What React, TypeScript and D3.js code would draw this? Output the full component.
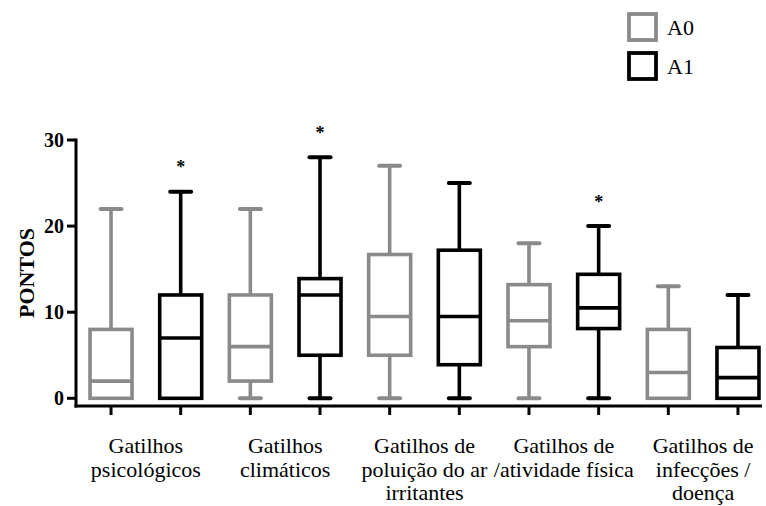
import React from "react";
import * as d3 from "d3";

const categories: string[][] = [
  ["Gatilhos", "psicológicos"],
  ["Gatilhos", "climáticos"],
  ["Gatilhos de", "poluição do ar", "irritantes"],
  ["Gatilhos de", "/atividade física"],
  ["Gatilhos de", "infecções /", "doença"],
];
const seriesNames = ["A0", "A1"];
const seriesColors = ["#8a8a8a", "#000000"];

const a0Min = [0, 0, 0, 0, 0];
const a0Q1 = [0, 2, 5, 6, 0];
const a0Median = [2, 6, 9.5, 9, 3];
const a0Q3 = [8, 12, 16.7, 13.2, 8];
const a0Max = [22, 22, 27, 18, 13];

const a1Min = [0, 0, 0, 0, 0];
const a1Q1 = [0, 5, 3.9, 8.1, 0];
const a1Median = [7, 12, 9.5, 10.5, 2.4];
const a1Q3 = [12, 13.9, 17.2, 14.4, 5.9];
const a1Max = [24, 28, 25, 20, 12];
const a1Significant = [true, true, false, true, false];

const yTicks = [0, 10, 20, 30];

const W = 766;
const H = 506;

export default function App() {
  const y = d3.scaleLinear().domain([0, 30]).range([398.3, 140]);
  const xGroup = d3
    .scaleBand<number>()
    .domain(d3.range(categories.length))
    .range([76.2, 772.8])
    .padding(0);
  const xSeries = d3
    .scaleBand<string>()
    .domain(seriesNames)
    .range([0, xGroup.bandwidth()])
    .padding(0);

  const stats = [
    { min: a0Min, q1: a0Q1, med: a0Median, q3: a0Q3, max: a0Max },
    { min: a1Min, q1: a1Q1, med: a1Median, q3: a1Q3, max: a1Max },
  ];

  const boxW = 42;
  const capW = 21;
  const sw = 3.6;
  const axisX = 76;
  const axisY = 406;

  const boxes: React.ReactNode[] = [];
  categories.forEach((_, gi) => {
    seriesNames.forEach((s, si) => {
      const st = stats[si];
      const cx = (xGroup(gi) as number) + (xSeries(s) as number) + xSeries.bandwidth() / 2;
      const col = seriesColors[si];
      const yMin = y(st.min[gi]);
      const yQ1 = y(st.q1[gi]);
      const yMed = y(st.med[gi]);
      const yQ3 = y(st.q3[gi]);
      const yMax = y(st.max[gi]);
      boxes.push(
        <g key={`${gi}-${s}`} stroke={col} fill="none">
          <line x1={cx} x2={cx} y1={yQ3} y2={yMax} strokeWidth={sw} />
          <line x1={cx} x2={cx} y1={yQ1} y2={yMin} strokeWidth={sw} />
          <line x1={cx - capW / 2} x2={cx + capW / 2} y1={yMax} y2={yMax} strokeWidth={4} strokeLinecap="round" />
          {st.min[gi] < st.q1[gi] && (
            <line x1={cx - capW / 2} x2={cx + capW / 2} y1={yMin} y2={yMin} strokeWidth={4} strokeLinecap="round" />
          )}
          <rect x={cx - boxW / 2} y={yQ3} width={boxW} height={yQ1 - yQ3} strokeWidth={sw} fill="white" />
          <line x1={cx - boxW / 2} x2={cx + boxW / 2} y1={yMed} y2={yMed} strokeWidth={sw} />
        </g>
      );
      if (si === 1 && a1Significant[gi]) {
        boxes.push(
          <text
            key={`star-${gi}`}
            className="ser"
            x={cx}
            y={yMax - 27 + 8.5}
            textAnchor="middle"
            fontWeight="bold"
            fontSize={18}
            fill="#000"
          >
            *
          </text>
        );
      }
    });
  });

  return (
    <div style={{ position: "absolute", left: 0, top: 0, fontFamily: "Liberation Serif, serif" }}>
      <svg
        width={W}
        height={H}
        fontFamily="Liberation Serif, serif"
        style={{ display: "block", background: "white", fontFamily: "Liberation Serif, serif" }}
      >
        <style>{`text, tspan { font-family: "Liberation Serif", "Times New Roman", serif !important; }`}</style>
        {/* Y axis */}
        <line x1={axisX} x2={axisX} y1={y(30) - 1.5} y2={axisY + 1.5} stroke="#000" strokeWidth={3} />
        {yTicks.map((t) => (
          <g key={t}>
            <line x1={axisX - 9} x2={axisX} y1={y(t)} y2={y(t)} stroke="#000" strokeWidth={3} />
            <text
              x={axisX - 12}
              y={y(t)}
              dy="0.35em"
              textAnchor="end"
              fontWeight="bold"
              fontSize={20}
              fill="#000"
            >
              {t}
            </text>
          </g>
        ))}
        <text
          transform={`translate(26,273) rotate(-90)`}
          textAnchor="middle"
          dy="0.35em"
          fontWeight="bold"
          fontSize={22}
          fill="#000"
        >
          PONTOS
        </text>

        {/* X axis */}
        <line x1={axisX - 1.5} x2={762} y1={axisY} y2={axisY} stroke="#000" strokeWidth={3} />
        {categories.map((_, gi) =>
          seriesNames.map((s) => {
            const cx = (xGroup(gi) as number) + (xSeries(s) as number) + xSeries.bandwidth() / 2;
            return (
              <line key={`t-${gi}-${s}`} x1={cx} x2={cx} y1={axisY} y2={axisY + 9} stroke="#000" strokeWidth={3} />
            );
          })
        )}
        {categories.map((lines, gi) => {
          const cx = (xGroup(gi) as number) + xGroup.bandwidth() / 2;
          return (
            <text key={`lab-${gi}`} textAnchor="middle" fontSize={22} fill="#000">
              {lines.map((ln, li) => (
                <tspan key={li} x={cx} y={453 + li * 23.5}>
                  {ln}
                </tspan>
              ))}
            </text>
          );
        })}

        {boxes}

        {/* Legend */}
        {seriesNames.map((s, si) => (
          <g key={`leg-${s}`}>
            <rect
              x={629}
              y={14 + si * 39}
              width={27}
              height={26}
              fill="white"
              stroke={seriesColors[si]}
              strokeWidth={3.8}
            />
            <text x={667} y={35 + si * 38.5} fontSize={22} fill="#000">
              {s}
            </text>
          </g>
        ))}
      </svg>
    </div>
  );
}
